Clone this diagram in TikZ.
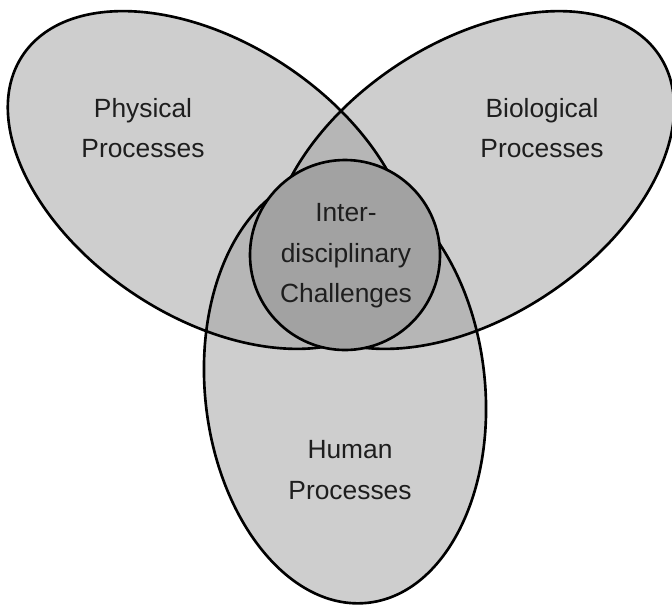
\documentclass[tikz,border=0pt]{standalone}
\usepackage{fontspec}
\setmainfont{Liberation Sans}
\usetikzlibrary{positioning}
\definecolor{VennLight}{HTML}{CECECE}
\definecolor{VennMid}{HTML}{B6B6B6}
\definecolor{VennCore}{HTML}{A2A2A2}
\definecolor{VennText}{HTML}{1E1E1E}

\begin{document}
\begin{tikzpicture}[x=0.02cm,y=-0.02cm,
    rim/.style={draw=black, line width=1.5pt},
    lobe/.style={fill=VennLight},
    overlap/.style={fill=VennMid},
    label/.style={align=center, inner sep=0pt, text=VennText,
      font=\fontsize{15}{23}\selectfont}
  ]
  \useasboundingbox (0,0) rectangle (672,606);

  % centres of the three lobes and the core circle
  \coordinate (phys) at (210,180);
  \coordinate (bio) at (472,180);
  \coordinate (human) at (345,389);
  \coordinate (core) at (345,255);

  % lobes
  \fill[lobe, rotate around={-33.6:(phys)}] (phys) ellipse [x radius=225, y radius=137];
  \fill[lobe, rotate around={33.6:(bio)}] (bio) ellipse [x radius=225, y radius=137];
  \fill[lobe, rotate around={6:(human)}] (human) ellipse [x radius=140, y radius=215];

  % pairwise overlaps
  \begin{scope}
    \clip[rotate around={-33.6:(phys)}] (phys) ellipse [x radius=225, y radius=137];
    \fill[overlap, rotate around={33.6:(bio)}] (bio) ellipse [x radius=225, y radius=137];
    \fill[overlap, rotate around={6:(human)}] (human) ellipse [x radius=140, y radius=215];
  \end{scope}
  \begin{scope}
    \clip[rotate around={33.6:(bio)}] (bio) ellipse [x radius=225, y radius=137];
    \fill[overlap, rotate around={6:(human)}] (human) ellipse [x radius=140, y radius=215];
  \end{scope}

  % outlines
  \draw[rim, rotate around={-33.6:(phys)}] (phys) ellipse [x radius=225, y radius=137];
  \draw[rim, rotate around={33.6:(bio)}] (bio) ellipse [x radius=225, y radius=137];
  \draw[rim, rotate around={6:(human)}] (human) ellipse [x radius=140, y radius=215];

  % core circle
  \draw[rim, fill=VennCore] (core) circle [radius=95];

  \node[label] (physlabel) at (143,128) {Physical\\Processes};
  \node[label] (biolabel) at (542,128) {Biological\\Processes};
  \node[label] (corelabel) at (346,256) {Inter-\\disciplinary\\Challenges};
  \node[label] (humanlabel) at (350,470) {Human\\Processes};
\end{tikzpicture}
\end{document}
